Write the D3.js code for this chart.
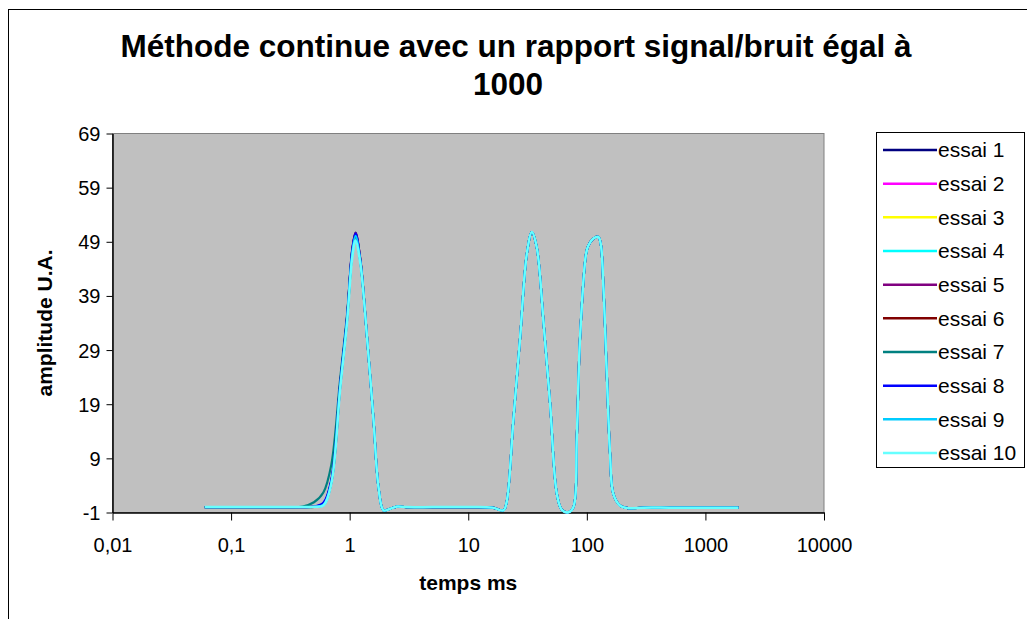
<!DOCTYPE html>
<html>
<head>
<meta charset="utf-8">
<script src="https://cdn.jsdelivr.net/npm/d3@7"></script>
<style>
  body { margin: 0; background: #fff; }
  svg { display: block; font-family: "Liberation Sans", Arial, sans-serif; }
</style>
</head>
<body>
<div id="chart"></div>
<script>
// temps (ms), shared by all the essais
var temps = [0.06, 0.1, 0.2, 0.3, 0.4, 0.5, 0.6, 0.7, 0.83, 0.95,
    1.05, 1.12, 1.23, 1.4, 1.59, 1.75, 1.93, 2.2, 2.5, 3,
    5, 10, 16, 19.8, 21.1, 24, 27.4, 31.2, 34.4, 37.8,
    43, 49, 55.8, 61.5, 70, 77.1, 82.3, 87.7, 98.5, 103,
    113.5, 125, 131, 138, 147, 157, 167, 190, 224, 300,
    500, 1000, 1900];

var essai1 = [0, 0, 0, 0, 0, 0.1, 0.6, 4.8, 22.5, 35, 47.5, 50.7, 45.8, 31.4, 16, 3.7, -0.6, -0.3, 0.1, 0,
    0, 0, -0.1, -0.6, 1, 16, 31.4, 46.8, 50.8, 48, 34.5, 19.1, 2.5, -0.5, -0.95, 0, 12.9, 31.4, 46.8, 48.3,
    49.6, 49.9, 48.6, 40.6, 25.2, 9.8, 2.5, 0.3, -0.2, -0.1, -0.1, -0.1, -0.1];
var essai2 = [0, 0, 0, 0, 0, 0.05, 0.4, 4.4, 21.8, 34.4, 46.9, 50.3, 45.4, 31.4, 16, 3.7, -0.6, -0.3, 0.1, 0,
    0, 0, -0.1, -0.6, 1, 16, 31.4, 46.8, 50.8, 48, 34.5, 19.1, 2.5, -0.5, -0.95, 0, 12.9, 31.4, 46.8, 48.3,
    49.6, 49.9, 48.6, 40.6, 25.2, 9.8, 2.5, 0.3, -0.2, -0.1, -0.1, -0.1, -0.1];
var essai3 = [0, 0, 0, 0, 0, 0.05, 0.45, 4.6, 22.1, 34.6, 46.7, 50.1, 45.6, 31.4, 16, 3.7, -0.6, -0.3, 0.1, 0,
    0, 0, -0.1, -0.6, 1, 16, 31.4, 46.8, 50.8, 48, 34.5, 19.1, 2.5, -0.5, -0.95, 0, 12.9, 31.4, 46.8, 48.3,
    49.6, 49.9, 48.6, 40.6, 25.2, 9.8, 2.5, 0.3, -0.2, -0.1, -0.1, -0.1, -0.1];
var essai4 = [0, 0, 0, 0, 0, 0.05, 0.4, 4.5, 22, 34.5, 46.8, 50.2, 45.5, 31.4, 16, 3.7, -0.6, -0.3, 0.1, 0,
    0, 0, -0.1, -0.6, 1, 16, 31.4, 46.8, 50.8, 48, 34.5, 19.1, 2.5, -0.5, -0.95, 0, 12.9, 31.4, 46.8, 48.3,
    49.6, 49.9, 48.6, 40.6, 25.2, 9.8, 2.5, 0.3, -0.2, -0.1, -0.1, -0.1, -0.1];
var essai5 = [0, 0, 0, 0, 0, 0.1, 0.5, 4.7, 22.3, 34.8, 47.2, 50.6, 45.7, 31.4, 16, 3.7, -0.6, -0.3, 0.1, 0,
    0, 0, -0.1, -0.6, 1, 16, 31.4, 46.8, 50.8, 48, 34.5, 19.1, 2.5, -0.5, -0.95, 0, 12.9, 31.4, 46.8, 48.3,
    49.6, 49.9, 48.6, 40.6, 25.2, 9.8, 2.5, 0.3, -0.2, -0.1, -0.1, -0.1, -0.1];
var essai6 = [0, 0, 0, 0, 0, 0.05, 0.45, 4.5, 22, 34.5, 46.9, 50.3, 45.5, 31.4, 16, 3.7, -0.6, -0.3, 0.1, 0,
    0, 0, -0.1, -0.6, 1, 16, 31.4, 46.8, 50.8, 48, 34.5, 19.1, 2.5, -0.5, -0.95, 0, 12.9, 31.4, 46.8, 48.3,
    49.6, 49.9, 48.6, 40.6, 25.2, 9.8, 2.5, 0.3, -0.2, -0.1, -0.1, -0.1, -0.1];
var essai7 = [0, 0, 0, 0, 0.1, 0.9, 2.7, 7.8, 23.5, 35.5, 47, 50, 45.2, 31.4, 16, 3.7, -0.6, -0.3, 0.1, 0,
    0, 0, -0.1, -0.6, 1, 16, 31.4, 46.8, 50.8, 48, 34.5, 19.1, 2.5, -0.5, -0.95, 0, 12.9, 31.4, 46.8, 48.3,
    49.6, 49.9, 48.6, 40.6, 25.2, 9.8, 2.5, 0.3, -0.2, -0.1, -0.1, -0.1, -0.1];
var essai8 = [0, 0, 0, 0, 0, 0.1, 0.8, 5, 22.6, 35, 47.3, 50.5, 45.6, 31.4, 16, 3.7, -0.6, -0.3, 0.1, 0,
    0, 0, -0.1, -0.6, 1, 16, 31.4, 46.8, 50.8, 48, 34.5, 19.1, 2.5, -0.5, -0.95, 0, 12.9, 31.4, 46.8, 48.3,
    49.6, 49.9, 48.6, 40.6, 25.2, 9.8, 2.5, 0.3, -0.2, -0.1, -0.1, -0.1, -0.1];
var essai9 = [0, 0, 0, 0, 0, 0.05, 0.4, 4.5, 22, 34.5, 46.8, 50.1, 45.5, 31.4, 16, 3.7, -0.6, -0.3, 0.1, 0,
    0, 0, -0.1, -0.6, 1, 16, 31.4, 46.8, 50.8, 48, 34.5, 19.1, 2.5, -0.5, -0.95, 0, 12.9, 31.4, 46.8, 48.3,
    49.6, 49.9, 48.6, 40.6, 25.2, 9.8, 2.5, 0.3, -0.2, -0.1, -0.1, -0.1, -0.1];
var essai10 = [0, 0, 0, 0, 0, 0.05, 0.3, 4.3, 21.6, 34, 46, 49.2, 45, 31.4, 16, 3.7, -0.6, -0.3, 0.1, 0,
    0, 0, -0.1, -0.6, 1, 16, 31.4, 46.8, 50.8, 48, 34.5, 19.1, 2.5, -0.5, -0.95, 0, 12.9, 31.4, 46.8, 48.3,
    49.6, 49.9, 48.6, 40.6, 25.2, 9.8, 2.5, 0.3, -0.2, -0.1, -0.1, -0.1, -0.1];

var seriesNames = ["essai 1", "essai 2", "essai 3", "essai 4", "essai 5",
    "essai 6", "essai 7", "essai 8", "essai 9", "essai 10"];
var seriesValues = [essai1, essai2, essai3, essai4, essai5,
    essai6, essai7, essai8, essai9, essai10];
var seriesColors = ["#000080", "#ff00ff", "#ffff00", "#00ffff", "#800080",
    "#800000", "#008080", "#0000ff", "#00ccff", "#66ffff"];

var xTicks = [0.01, 0.1, 1, 10, 100, 1000, 10000];
var yTicks = [-1, 9, 19, 29, 39, 49, 59, 69];

var width = 1027,
    height = 619;
var plot = {left: 112.5, right: 824, top: 133.5, bottom: 512.5};

var svg = d3.select("#chart").append("svg")
    .attr("width", width)
    .attr("height", height);

// outer chart frame
svg.append("rect")
    .attr("x", 8.5).attr("y", 9.5)
    .attr("width", width + 10).attr("height", height + 10)
    .attr("fill", "#fff").attr("stroke", "#000");

var x = d3.scaleLog()
    .domain([0.01, 10000])
    .range([plot.left, plot.right]);
var y = d3.scaleLinear()
    .domain([-1, 69])
    .range([plot.bottom, plot.top]);

// plot area
svg.append("rect")
    .attr("x", plot.left).attr("y", plot.top)
    .attr("width", plot.right - plot.left)
    .attr("height", plot.bottom - plot.top)
    .attr("fill", "#c0c0c0")
    .attr("stroke", "#808080");

// french decimal comma, plain hyphen for negatives
var frText = function(d) { return String(d).replace(".", ","); };

var xAxis = svg.append("g")
    .attr("transform", "translate(0," + plot.bottom + ")")
    .call(d3.axisBottom(x).tickValues(xTicks).tickFormat(frText)
        .tickSizeInner(8).tickSizeOuter(0).tickPadding(17));
var yAxis = svg.append("g")
    .attr("transform", "translate(" + plot.left + ",0)")
    .call(d3.axisLeft(y).tickValues(yTicks).tickFormat(frText)
        .tickSizeInner(6).tickSizeOuter(0).tickPadding(6));

[xAxis, yAxis].forEach(function(g) {
    g.select(".domain").attr("stroke", "#000").attr("stroke-width", 1.5);
    g.selectAll(".tick line").attr("stroke", "#000");
    g.selectAll(".tick text")
        .attr("fill", "#000")
        .style("font-size", "20px")
        .style("font-family", "'Liberation Sans', Arial, sans-serif");
});
yAxis.selectAll(".tick text").attr("dy", "0.35em");

// curves, essai 1 at the bottom, essai 10 on top
var line = d3.line()
    .x(function(d) { return x(d[0]); })
    .y(function(d) { return y(d[1]); })
    .curve(d3.curveCatmullRom.alpha(0.5));

seriesValues.forEach(function(vals, i) {
    var pts = temps.map(function(t, j) { return [t, vals[j]]; });
    svg.append("path")
        .datum(pts)
        .attr("d", line)
        .attr("fill", "none")
        .attr("stroke", seriesColors[i])
        .attr("stroke-width", i === 9 ? 2.5 : 2.2)
        .attr("stroke-linejoin", "round");
});

// title
var title = svg.append("text")
    .attr("text-anchor", "middle")
    .style("font-size", "31.5px")
    .style("font-weight", "bold");
title.append("tspan").attr("x", 516).attr("y", 57)
    .text("Méthode continue avec un rapport signal/bruit égal à");
title.append("tspan").attr("x", 508).attr("y", 95)
    .text("1000");

// axis titles
svg.append("text")
    .attr("x", (plot.left + plot.right) / 2).attr("y", 590)
    .attr("text-anchor", "middle")
    .style("font-size", "21px").style("font-weight", "bold")
    .text("temps ms");
svg.append("text")
    .attr("transform", "translate(52," + ((plot.top + plot.bottom) / 2) + ") rotate(-90)")
    .attr("text-anchor", "middle")
    .style("font-size", "21px").style("font-weight", "bold")
    .text("amplitude U.A.");

// legend
var legend = svg.append("g");
legend.append("rect")
    .attr("x", 876.5).attr("y", 132.5)
    .attr("width", 148).attr("height", 335)
    .attr("fill", "#fff").attr("stroke", "#000");

var legendRow = d3.scaleLinear().domain([0, 9]).range([150, 453]);
seriesNames.forEach(function(name, i) {
    var ly = legendRow(i);
    legend.append("line")
        .attr("x1", 883).attr("x2", 937)
        .attr("y1", ly).attr("y2", ly)
        .attr("stroke", seriesColors[i]).attr("stroke-width", 2.5);
    legend.append("text")
        .attr("x", 938).attr("y", ly).attr("dy", "0.35em")
        .style("font-size", "21px")
        .text(name);
});
</script>
</body>
</html>
